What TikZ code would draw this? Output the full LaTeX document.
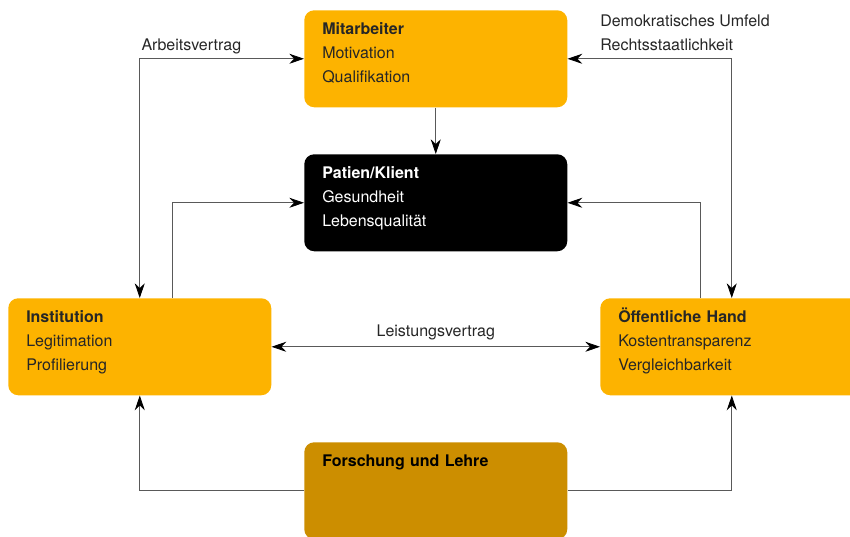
\documentclass[tikz,border=0pt]{standalone}
\usepackage{fontspec}
\setmainfont{TeX Gyre Heros}
\usetikzlibrary{arrows.meta, positioning}
\definecolor{gold}{HTML}{FDB300}
\definecolor{ochre}{HTML}{CC8E00}
\tikzset{
  box/.style={
    rectangle,
    rounded corners=7.5pt,
    fill=gold,
    anchor=north west,
    minimum width=197.25pt,
    minimum height=72.75pt,
    text width=170.25pt,
    inner xsep=13.5pt,
    inner ysep=0pt,
    text height=18pt,
    text depth=54.75pt,
    align=left,
    text=black!85,
    font=\fontsize{12}{18}\selectfont,
  },
  patbox/.style={
    box,
    fill=black,
    text=white
  },
  forbox/.style={
    box,
    fill=ochre,
    text=black
  },
  lbl/.style={
    align=left,
    text=black!85,
    font=\fontsize{12}{18}\selectfont
  },
  tip/.style={
    Stealth[length=11pt, width=7.5pt, inset=3.5pt, color=black]
  },
  arrow/.style={
    -{Stealth[length=11pt, width=7.5pt, inset=3.5pt, color=black]},
    draw=black!65,
    line width=0.6pt
  },
  twoway/.style={
    arrow,
    {Stealth[length=11pt, width=7.5pt, inset=3.5pt, color=black]}-{Stealth[length=11pt, width=7.5pt, inset=3.5pt, color=black]}
  }
}

\begin{document}
\begin{tikzpicture}[x=0.75pt, y=-0.75pt]
  \useasboundingbox (0,0) rectangle (850,536);
  \clip (0,0) rectangle (850,536);

  \node[box] (mit) at (304,10) {\textbf{Mitarbeiter}\\Motivation\\Qualifikation};
  \node[patbox] (pat) at (304,154) {\textbf{Patien/Klient}\\Gesundheit\\Lebensqualität};
  \node[box] (inst) at (8,298) {\textbf{Institution}\\Legitimation\\Profilierung};
  \node[box] (oef) at (600,298) {\textbf{Öffentliche Hand}\\Kostentransparenz\\Vergleichbarkeit};
  \node[forbox] (for) at (304,442) {\textbf{Forschung und Lehre}};

  \node[lbl, anchor=south west, inner sep=0pt] (umfeld) at (600,51) {Demokratisches Umfeld\\Rechtsstaatlichkeit};

  \draw[arrow] (mit) -- (pat);
  \draw[twoway] (inst.north) |- node[lbl, pos=0.5, anchor=south west, inner xsep=1pt, inner ysep=3.5pt] (arbeit) {Arbeitsvertrag} (mit.west);
  \draw[twoway] (oef.north) |- (mit.east);
  \draw[arrow] ([xshift=24.75pt]inst.north) |- (pat.west);
  \draw[arrow] ([xshift=-23.6pt]oef.north) |- (pat.east);
  \draw[twoway] (inst.east) -- node[lbl, above, inner ysep=5pt] (leist) {Leistungsvertrag} (oef.west);
  \draw[arrow] (for.west) -| (inst.south);
  \draw[arrow] (for.east) -| (oef.south);
\end{tikzpicture}
\end{document}
